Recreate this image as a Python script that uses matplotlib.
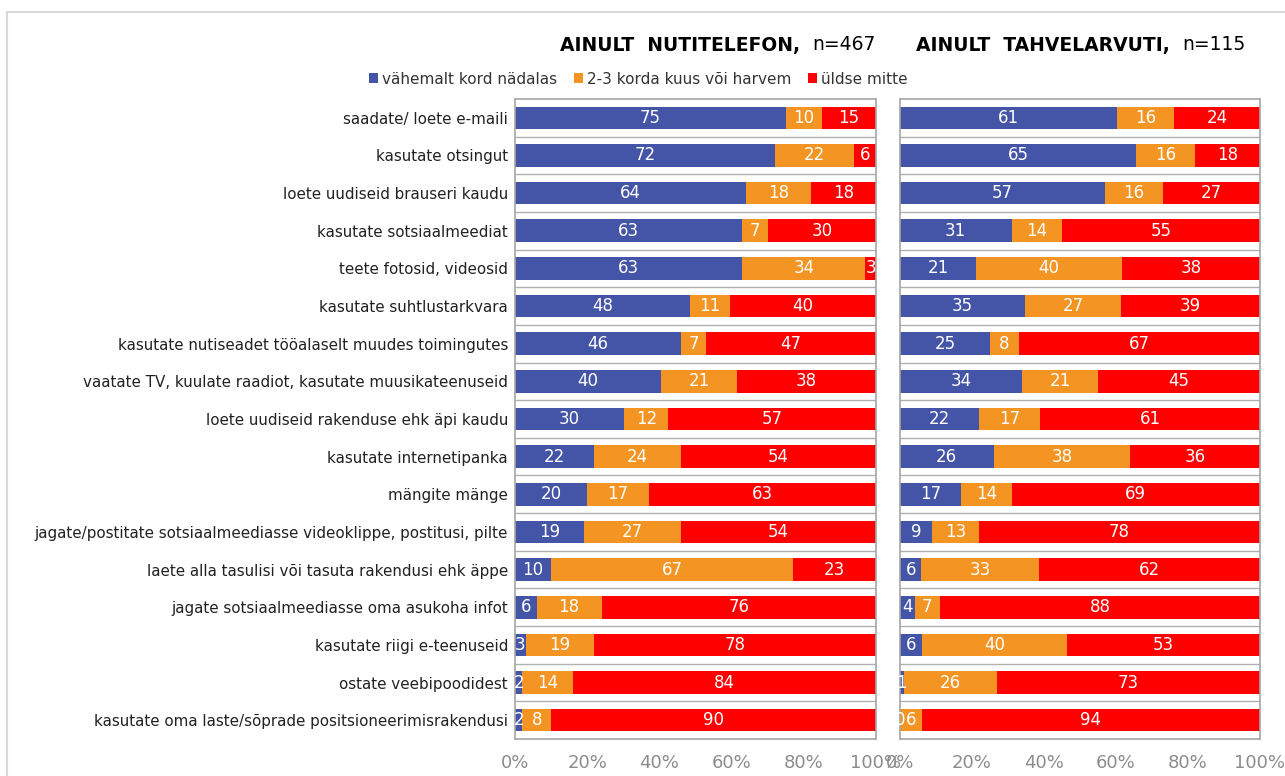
import numpy as np
import matplotlib.pyplot as plt
from matplotlib.patches import Patch, Rectangle
from matplotlib.ticker import PercentFormatter

categories = [
    "saadate/ loete e-maili",
    "kasutate otsingut",
    "loete uudiseid brauseri kaudu",
    "kasutate sotsiaalmeediat",
    "teete fotosid, videosid",
    "kasutate suhtlustarkvara",
    "kasutate nutiseadet tööalaselt muudes toimingutes",
    "vaatate TV, kuulate raadiot, kasutate muusikateenuseid",
    "loete uudiseid rakenduse ehk äpi kaudu",
    "kasutate internetipanka",
    "mängite mänge",
    "jagate/postitate sotsiaalmeediasse videoklippe, postitusi, pilte",
    "laete alla tasulisi või tasuta rakendusi ehk äppe",
    "jagate sotsiaalmeediasse oma asukoha infot",
    "kasutate riigi e-teenuseid",
    "ostate veebipoodidest",
    "kasutate oma laste/sõprade positsioneerimisrakendusi",
]
series_names = ["vähemalt kord nädalas", "2-3 korda kuus või harvem", "üldse mitte"]

# Ainult nutitelefon, n=467
phone_weekly = [75, 72, 64, 63, 63, 48, 46, 40, 30, 22, 20, 19, 10, 6, 3, 2, 2]
phone_monthly = [10, 22, 18, 7, 34, 11, 7, 21, 12, 24, 17, 27, 67, 18, 19, 14, 8]
phone_never = [15, 6, 18, 30, 3, 40, 47, 38, 57, 54, 63, 54, 23, 76, 78, 84, 90]

# Ainult tahvelarvuti, n=115
tablet_weekly = [61, 65, 57, 31, 21, 35, 25, 34, 22, 26, 17, 9, 6, 4, 6, 1, 0]
tablet_monthly = [16, 16, 16, 14, 40, 27, 8, 21, 17, 38, 14, 13, 33, 7, 40, 26, 6]
tablet_never = [24, 18, 27, 55, 38, 39, 67, 45, 61, 36, 69, 78, 62, 88, 53, 73, 94]

colors = ["#4454A6", "#F39423", "#FF0000"]
font = "DejaVu Sans"
plt.rcParams["font.family"] = font

fig = plt.figure(figsize=(12.85, 7.76), dpi=100)

# light frame around the whole chart
fig.patches.append(Rectangle((7 / 1285, -0.01), 1.02, 1 - 12 / 776 + 0.01,
                             transform=fig.transFigure, fill=False,
                             edgecolor="#d9d9d9", linewidth=1.5))

ax_l = fig.add_axes([515 / 1285, 1 - 739 / 776, 361 / 1285, 640 / 776])
ax_r = fig.add_axes([900 / 1285, 1 - 739 / 776, 360 / 1285, 640 / 776])


def draw_panel(ax, groups, show_labels):
    data = np.array(groups, dtype=float)
    shares = data / data.sum(axis=0) * 100
    y = np.arange(len(categories))
    left = np.zeros(len(categories))
    for vals, raw, col in zip(shares, data, colors):
        ax.barh(y, vals, left=left, height=0.6, color=col, zorder=2)
        for yi, l, v, r in zip(y, left, vals, raw):
            ax.text(l + v / 2, yi, f"{int(r)}", ha="center", va="center",
                    color="white", fontsize=12, zorder=3)
        left += vals
    ax.set_xlim(0, 100)
    ax.set_ylim(len(categories) - 0.5, -0.5)
    for b in np.arange(0.5, len(categories) - 0.5, 1):
        ax.axhline(b, color="#b0b0b0", linewidth=1, zorder=1)
    ax.set_yticks(y)
    if show_labels:
        ax.set_yticklabels(categories, fontsize=10.9, color="#222222")
    else:
        ax.set_yticklabels([])
    ax.set_xticks(np.arange(0, 101, 20))
    ax.xaxis.set_major_formatter(PercentFormatter(decimals=0))
    ax.tick_params(axis="x", length=0, pad=11, labelsize=13, labelcolor="#8c8c8c")
    ax.tick_params(axis="y", length=0, pad=5)
    for s in ax.spines.values():
        s.set_color("#a6a6a6")
        s.set_linewidth(1.2)


draw_panel(ax_l, [phone_weekly, phone_monthly, phone_never], True)
draw_panel(ax_r, [tablet_weekly, tablet_monthly, tablet_never], False)

# panel titles
ty = 1 - 45 / 776
fig.text(800 / 1285, ty, "AINULT  NUTITELEFON,", ha="right", va="center",
         fontsize=13.5, fontweight="bold")
fig.text(812 / 1285, ty, "n=467", ha="left", va="center", fontsize=13.5)
fig.text(1170 / 1285, ty, "AINULT  TAHVELARVUTI,", ha="right", va="center",
         fontsize=13.5, fontweight="bold")
fig.text(1182 / 1285, ty, "n=115", ha="left", va="center", fontsize=13.5)

handles = [Patch(facecolor=c) for c in colors]
fig.legend(handles, series_names, loc="center", ncol=3,
           bbox_to_anchor=(638 / 1285, 1 - 79 / 776), frameon=False,
           fontsize=11, handlelength=0.6, handleheight=0.6,
           handletextpad=0.25, columnspacing=1.1, labelcolor="#333333")

fig.savefig("out.png", dpi=100)
